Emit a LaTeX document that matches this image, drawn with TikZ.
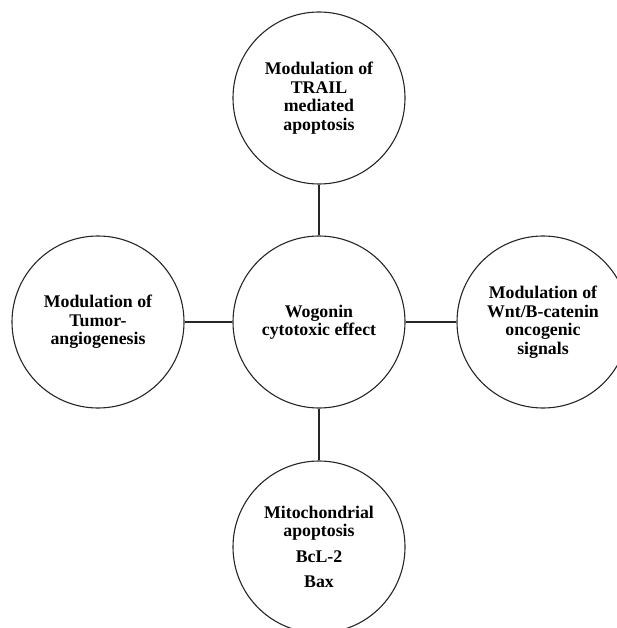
\documentclass[tikz,border=0pt]{standalone}
\usepackage{fontspec}
\setmainfont{Liberation Serif}
\begin{document}
\begin{tikzpicture}[x=1pt,y=-1pt,
  bubble/.style={draw=black!85,line width=1.1pt,circle,minimum size=172pt,inner sep=0pt,align=center,
    font=\bfseries\fontsize{17.8}{18.5}\selectfont},
  link/.style={draw=black!85,line width=1.1pt}]
\useasboundingbox (0,0) rectangle (617,628);
\node[bubble] (c) at (319,322) {Wogonin\\cytotoxic effect};
\node[bubble] (t) at (319,98) {Modulation of\\TRAIL\\mediated\\apoptosis};
\node[bubble] (l) at (98,322) {Modulation of\\Tumor-\\angiogenesis};
\node[bubble] (r) at (543,322) {Modulation of\\Wnt/B-catenin\\oncogenic\\signals};
\node[bubble] (b) at (319,547) {Mitochondrial\\apoptosis\\[7pt]BcL-2\\[7pt]Bax};
\draw[link] (c) -- (t);
\draw[link] (c) -- (l);
\draw[link] (c) -- (r);
\draw[link] (c) -- (b);
\end{tikzpicture}
\end{document}
